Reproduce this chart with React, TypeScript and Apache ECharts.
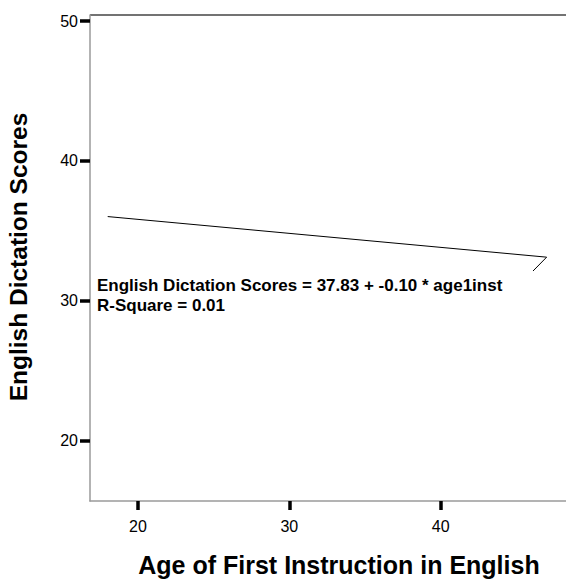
import React, { useEffect, useRef } from "react";
import * as echarts from "echarts";

const xTicks = [20, 30, 40];
const yTicks = [20, 30, 40, 50];
const fitLine: [number, number][] = [
  [18, 36.03],
  [47, 33.13],
  [46.1, 32.14],
];
const xTitle = "Age of First Instruction in English";
const yTitle = "English Dictation Scores";
const equation = "English Dictation Scores = 37.83 + -0.10 * age1inst";
const rSquare = "R-Square = 0.01";

const FONT = '"Liberation Sans", Arial, sans-serif';

export default function App() {
  const ref = useRef<HTMLDivElement>(null);
  useEffect(() => {
    if (!ref.current) return;
    const chart = echarts.init(ref.current, null, { renderer: "svg" });
    chart.setOption({
      animation: false,
      backgroundColor: "#ffffff",
      grid: { left: 90, right: -10, top: 15, bottom: 80, containLabel: false },
      xAxis: {
        type: "value",
        min: 16.83,
        max: 48.28,
        splitLine: { show: false },
        axisLine: { show: true, lineStyle: { color: "#9a9a9a", width: 1.5 } },
        axisTick: {
          show: true,
          customValues: xTicks,
          length: 9,
          lineStyle: { color: "#000", width: 3.5 },
        },
        axisLabel: {
          customValues: xTicks,
          margin: 17,
          color: "#000",
          fontSize: 16,
          fontFamily: FONT,
        },
      },
      yAxis: {
        type: "value",
        min: 15.71,
        max: 50.43,
        splitLine: { show: false },
        axisLine: { show: true, lineStyle: { color: "#9a9a9a", width: 1.5 } },
        axisTick: {
          show: true,
          customValues: yTicks,
          length: 10,
          lineStyle: { color: "#000", width: 3.5 },
        },
        axisLabel: {
          customValues: yTicks,
          margin: 12,
          color: "#000",
          fontSize: 16,
          fontFamily: FONT,
        },
      },
      graphic: [
        {
          type: "line",
          shape: { x1: 90, y1: 15, x2: 566, y2: 15 },
          style: { stroke: "#444", lineWidth: 1.5 },
        },
        {
          type: "text",
          x: 339,
          y: 565,
          style: {
            text: xTitle,
            textAlign: "center",
            textVerticalAlign: "middle",
            font: `bold 25px ${FONT}`,
            fill: "#000",
          },
        },
        {
          type: "text",
          x: 18,
          y: 257,
          rotation: Math.PI / 2,
          style: {
            text: yTitle,
            textAlign: "center",
            textVerticalAlign: "middle",
            font: `bold 24.5px ${FONT}`,
            fill: "#000",
          },
        },
        {
          type: "text",
          x: 97,
          y: 285,
          style: {
            text: equation,
            textAlign: "left",
            textVerticalAlign: "middle",
            font: `bold 17px ${FONT}`,
            fill: "#000",
          },
        },
        {
          type: "text",
          x: 97,
          y: 305,
          style: {
            text: rSquare,
            textAlign: "left",
            textVerticalAlign: "middle",
            font: `bold 17px ${FONT}`,
            fill: "#000",
          },
        },
      ],
      series: [
        {
          type: "line",
          data: fitLine,
          symbol: "none",
          lineStyle: { color: "#000", width: 1 },
          silent: true,
        },
      ],
    });
    return () => chart.dispose();
  }, []);
  return (
    <div
      ref={ref}
      style={{ position: "fixed", left: 0, top: 0, width: 566, height: 581 }}
    />
  );
}
